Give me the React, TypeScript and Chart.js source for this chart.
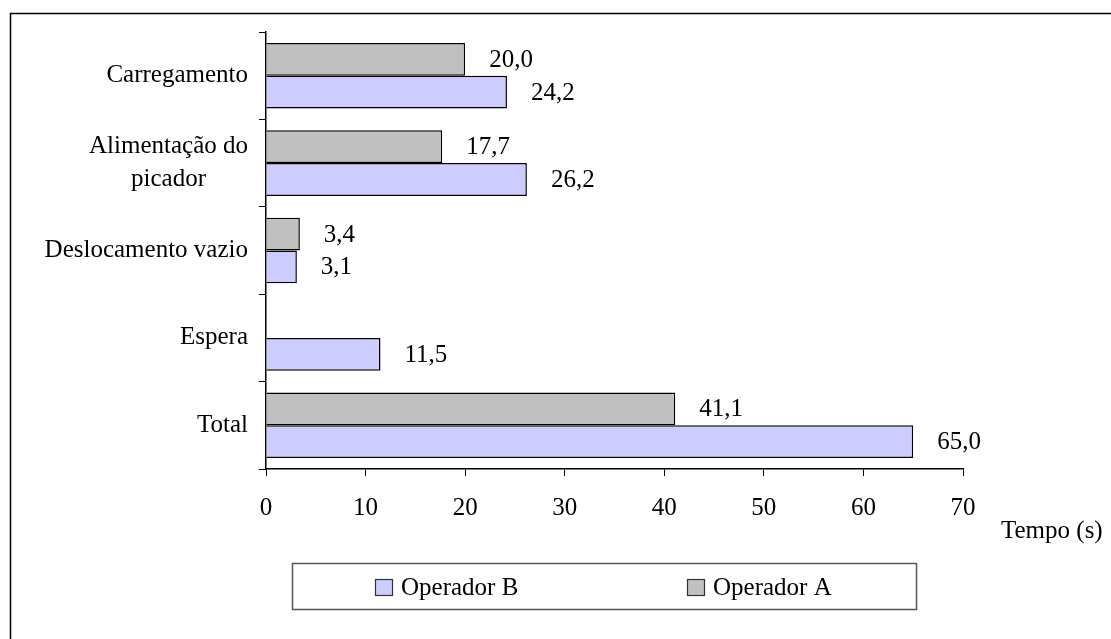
import React, { useEffect, useRef } from "react";
import { Chart, registerables } from "chart.js";

Chart.register(...registerables);

const categories: string[][] = [
  ["Carregamento"],
  ["Alimentação do", "picador"],
  ["Deslocamento vazio"],
  ["Espera"],
  ["Total"],
];
const operadorA: (number | null)[] = [20.0, 17.7, 3.4, null, 41.1];
const operadorB: (number | null)[] = [24.2, 26.2, 3.1, 11.5, 65.0];
const xTicks: number[] = [0, 10, 20, 30, 40, 50, 60, 70];
const axisTitle = "Tempo (s)";

const FONT = "'Liberation Serif', 'Times New Roman', serif";
const FS = 25;

const decorPlugin = {
  id: "decor",
  afterDraw(chart: any) {
    const ctx = chart.ctx;
    const x = chart.scales.x;
    const y = chart.scales.y;
    ctx.save();
    // outer frame
    ctx.strokeStyle = "#000";
    ctx.lineWidth = 1.5;
    ctx.strokeRect(10.5, 13.5, 1200, 800);

    ctx.font = `${FS}px ${FONT}`;
    ctx.fillStyle = "#000";
    // category labels
    const lh = 33;
    chart.data.labels.forEach((lab: string[], i: number) => {
      const cy = y.getPixelForValue(i);
      const w = Math.max(...lab.map((l) => ctx.measureText(l).width));
      const right = x.left - 18;
      const cx = right - w / 2;
      ctx.textAlign = "center";
      ctx.textBaseline = "middle";
      lab.forEach((l, k) => {
        ctx.fillText(l, cx, cy + (k - (lab.length - 1) / 2) * lh);
      });
    });

    // data labels
    ctx.textAlign = "left";
    ctx.textBaseline = "middle";
    chart.data.datasets.forEach((ds: any, di: number) => {
      const meta = chart.getDatasetMeta(di);
      meta.data.forEach((el: any, i: number) => {
        const v = ds.data[i];
        if (v === null || v === undefined) return;
        ctx.fillText(v.toFixed(1).replace(".", ","), el.x + 24, el.y + 1);
      });
    });

    // axis title
    ctx.textAlign = "left";
    ctx.fillText(axisTitle, 1001, 531);

    // legend
    const lx = 292.5, ly = 563.5, lw = 624, lhgt = 46;
    ctx.fillStyle = "#fff";
    ctx.fillRect(lx, ly, lw, lhgt);
    ctx.strokeStyle = "#555";
    ctx.lineWidth = 1.5;
    ctx.strokeRect(lx, ly, lw, lhgt);
    const items = [chart.data.datasets[1], chart.data.datasets[0]];
    const starts = [375, 687];
    items.forEach((ds: any, k: number) => {
      const sx = starts[k];
      ctx.fillStyle = ds.backgroundColor;
      ctx.fillRect(sx + 0.5, 579.5, 17, 16);
      ctx.strokeStyle = "#333";
      ctx.lineWidth = 1.2;
      ctx.strokeRect(sx + 0.5, 579.5, 17, 16);
      ctx.fillStyle = "#000";
      ctx.textAlign = "left";
      ctx.textBaseline = "middle";
      ctx.fillText(ds.label, sx + 26, 588);
    });
    ctx.restore();
  },
};

export default function App() {
  const ref = useRef<HTMLCanvasElement | null>(null);
  useEffect(() => {
    if (!ref.current) return;
    const chart = new Chart(ref.current, {
      type: "bar",
      data: {
        labels: categories as any,
        datasets: [
          {
            label: "Operador A",
            data: operadorA,
            backgroundColor: "#C0C0C0",
            borderColor: "#000",
            borderWidth: 1.5,
            categoryPercentage: 0.75,
            barPercentage: 1,
          },
          {
            label: "Operador B",
            data: operadorB,
            backgroundColor: "#CCCCFF",
            borderColor: "#000",
            borderWidth: 1.5,
            categoryPercentage: 0.75,
            barPercentage: 1,
          },
        ],
      },
      options: {
        indexAxis: "y",
        animation: false,
        responsive: false,
        maintainAspectRatio: false,
        layout: { padding: { top: 32, right: 148, bottom: 110, left: 0 } },
        plugins: {
          legend: { display: false },
          tooltip: { enabled: false },
          title: { display: false },
        },
        scales: {
          x: {
            type: "linear",
            min: 0,
            max: 70,
            afterBuildTicks: (s: any) => {
              s.ticks = xTicks.map((v) => ({ value: v }));
            },
            afterFit: (s: any) => {
              s.height = 60;
            },
            ticks: {
              color: "#000",
              font: { family: FONT, size: FS },
              padding: 17,
              callback: (v: any) => String(v),
            },
            grid: {
              drawOnChartArea: false,
              drawTicks: true,
              tickLength: 7,
              color: "#000",
              lineWidth: 1,
            },
            border: { display: true, color: "#000", width: 1.5 },
          },
          y: {
            type: "category",
            afterFit: (s: any) => {
              s.width = 266;
            },
            ticks: { display: false },
            grid: {
              offset: true,
              drawOnChartArea: false,
              drawTicks: true,
              tickLength: 7,
              color: "#000",
              lineWidth: 1,
            },
            border: { display: true, color: "#000", width: 1.5 },
          },
        },
      } as any,
      plugins: [decorPlugin],
    });
    return () => chart.destroy();
  }, []);
  return (
    <div style={{ position: "fixed", left: 0, top: 0, width: 1111, height: 639, background: "#fff" }}>
      <canvas ref={ref} width={1111} height={639} style={{ width: 1111, height: 639, display: "block" }} />
    </div>
  );
}
